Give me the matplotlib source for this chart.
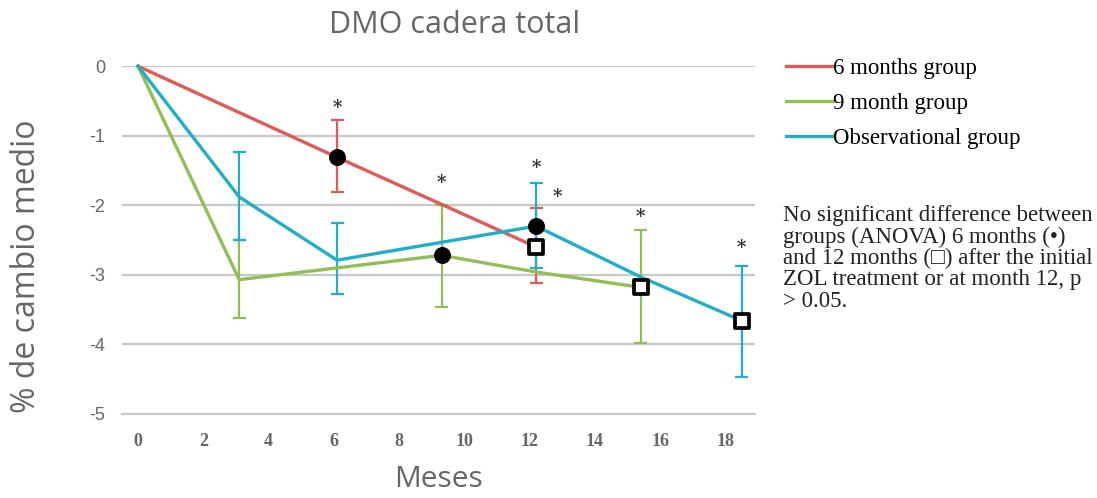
import matplotlib.pyplot as plt

# 6 months group
x_red = [0, 6.1, 12.2]
y_red = [0, -1.31, -2.6]
err_red_x = [6.1, 12.2]
err_red_lo = [-1.81, -3.12]
err_red_hi = [-0.78, -2.04]

# 9 month group
x_green = [0, 3.1, 9.3, 12.2, 15.4]
y_green = [0, -3.07, -2.72, -2.96, -3.18]
err_green_x = [3.1, 9.3, 15.4]
err_green_lo = [-3.62, -3.46, -3.98]
err_green_hi = [-2.5, -2.0, -2.36]

# Observational group
x_blue = [0, 3.1, 6.1, 12.2, 15.4, 18.5]
y_blue = [0, -1.88, -2.79, -2.3, -3.03, -3.66]
err_blue_x = [3.1, 6.1, 12.2, 18.5]
err_blue_lo = [-2.5, -3.28, -2.9, -4.47]
err_blue_hi = [-1.24, -2.26, -1.68, -2.87]

# 6 month (circle) and 12 month (square) markers
circ_x = [6.1, 9.3, 12.2]
circ_y = [-1.31, -2.72, -2.3]
sq_x = [12.2, 15.4, 18.5]
sq_y = [-2.6, -3.18, -3.66]

star_x = [6.1, 9.3, 12.2, 12.85, 15.4, 18.5]
star_y = [-0.6, -1.68, -1.47, -1.88, -2.17, -2.61]

red = '#e05a57'
green = '#92bf54'
blue = '#1fb0c8'

fig = plt.figure(figsize=(10.97, 4.98), dpi=100)
ax = fig.add_axes([0.111, 0.169, 0.577, 0.698])

for xs, lo, hi, c in [(err_red_x, err_red_lo, err_red_hi, red),
                      (err_green_x, err_green_lo, err_green_hi, green),
                      (err_blue_x, err_blue_lo, err_blue_hi, blue)]:
    ax.vlines(xs, lo, hi, color=c, lw=1.6, zorder=3)
    ax.hlines(lo + hi, [v - 0.2 for v in xs + xs], [v + 0.2 for v in xs + xs], color=c, lw=1.6, zorder=3)

ax.plot(x_red, y_red, color=red, lw=2.4, label='6 months group', zorder=4, clip_on=False)
ax.plot(x_green, y_green, color=green, lw=2.4, label='9 month group', zorder=4, clip_on=False)
ax.plot(x_blue, y_blue, color=blue, lw=2.4, label='Observational group', zorder=4, clip_on=False)

ax.scatter(circ_x, circ_y, s=125, color='black', zorder=5)
ax.scatter(sq_x, sq_y, s=95, marker='s', facecolor='white', edgecolor='black', linewidths=2.7, zorder=5)

for sx, sy in zip(star_x, star_y):
    ax.text(sx, sy, '*', ha='center', va='center', fontsize=13, color='#333333',
            family='DejaVu Serif', fontweight='bold')

ax.set_xlim(-0.5, 18.9)
ax.set_ylim(-5, 0)
ax.set_xticks(range(0, 19, 2))
ax.set_yticks(range(-5, 1))
ax.set_yticklabels([str(v) for v in range(-5, 1)], fontsize=13, color='#666666', family='Liberation Sans')
ax.set_xticklabels([str(v) for v in range(0, 19, 2)], fontsize=13, color='#666666',
                   family='Liberation Serif', fontweight='bold')
ax.tick_params(length=0, pad=14)
ax.tick_params(axis='y', pad=12)
ax.grid(axis='y', color='#c8c8c8', lw=1.6)
for s in ['top', 'right', 'left']:
    ax.spines[s].set_visible(False)
ax.spines['bottom'].set_color('#c8c8c8')
ax.spines['bottom'].set_linewidth(1.6)

ax.set_title('DMO cadera total', fontsize=22, color='#666666', family='Open Sans', x=0.526, pad=24)
ax.set_xlabel('Meses', fontsize=21.5, color='#666666', family='Open Sans')
ax.xaxis.set_label_coords(0.5, -0.19)
ax.xaxis.label.set_va('center')
ax.set_ylabel('% de cambio medio', fontsize=23, color='#666666', family='Open Sans')
ax.yaxis.set_label_coords(-0.151, 0.425)
ax.yaxis.label.set_va('center')

ax.legend(loc='upper left', bbox_to_anchor=(1.035, 1.05), frameon=False, handlelength=2.05,
          handletextpad=0.0, labelspacing=0.6, borderaxespad=0,
          prop={'family': 'Liberation Serif', 'size': 16.5})

note = ('No significant difference between\n'
        'groups (ANOVA) 6 months (\u2022)\n'
        'and 12 months (\u25a1) after the initial\n'
        'ZOL treatment or at month 12, p\n'
        '> 0.05.')
fig.text(0.714, 0.588, note, ha='left', va='top', fontsize=16.5, family=['Liberation Serif', 'DejaVu Sans'],
         color='#222222', linespacing=1.02)

fig.savefig('out.png')
